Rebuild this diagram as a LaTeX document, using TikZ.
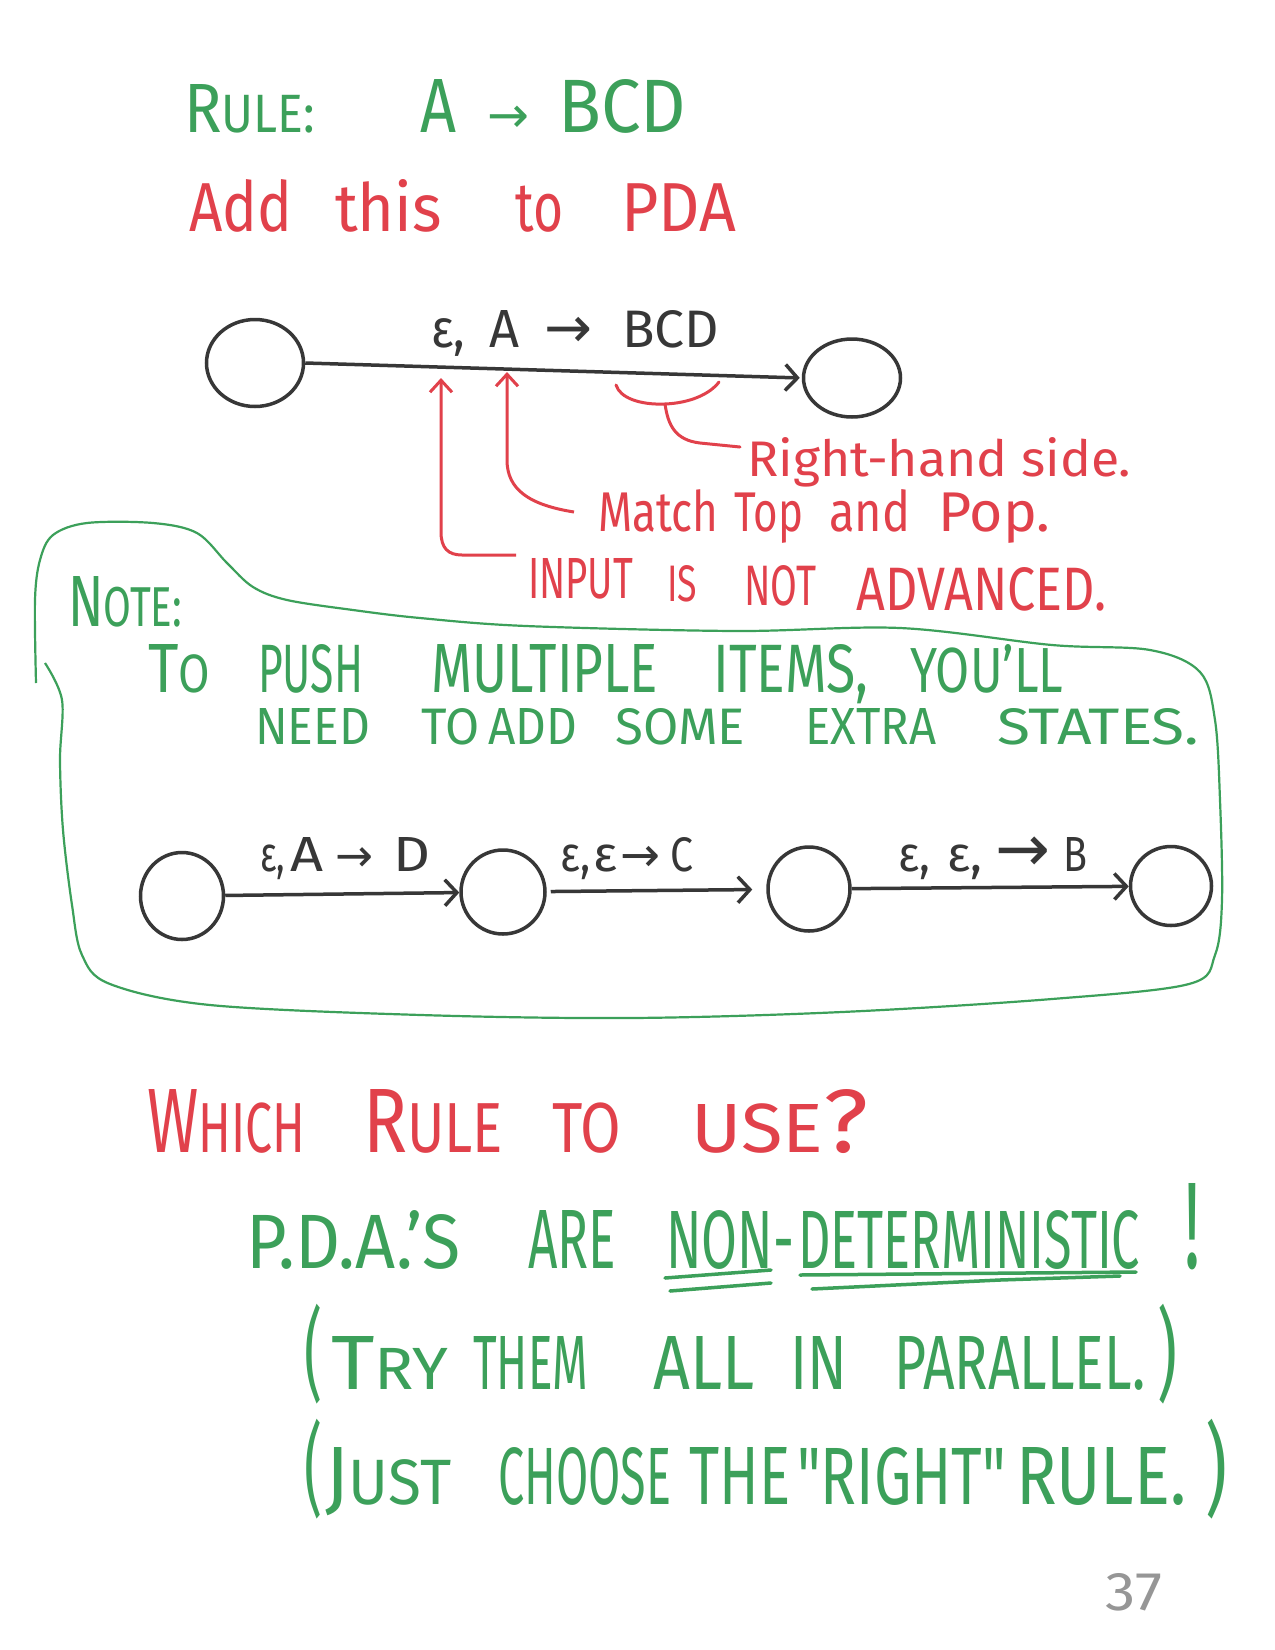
\documentclass[tikz,border=0pt]{standalone}
\usepackage{fontspec}
\setmainfont{Fira Sans}
\newfontfamily\arrfont{DejaVu Sans}
\usepackage{graphicx}
\usetikzlibrary{arrows.meta,shapes.geometric}
\definecolor{ink}{RGB}{55,55,55}
\definecolor{grn}{RGB}{60,160,90}
\definecolor{rd}{RGB}{225,65,75}
\definecolor{pg}{RGB}{150,150,150}
\newcommand\sk[1]{{\fontsize{31}{31}\selectfont #1}}
\newcommand\fb[3]{\resizebox{#1pt}{#2pt}{#3}}
\newcommand\W[3]{\resizebox{#1pt}{#2pt}{\vphantom{Ald}#3}}
\newcommand\C[3]{\resizebox{#1pt}{#2pt}{\vphantom{A}#3}}
\newcommand\G[1]{\hspace*{#1pt}}
\newcommand\AR[1]{\resizebox{#1pt}{!}{\arrfont →}}
\newcommand\PAR[3]{\resizebox*{#1pt}{#2pt}{#3}}
\begin{document}
\begin{tikzpicture}[x=1pt,y=-1pt,font=\fontsize{40}{48}\selectfont,
  txt/.style={inner sep=0pt,anchor=base west},
  state/.style={draw=ink,line width=3.5pt,ellipse,inner sep=0pt},
  edge/.style={draw=ink,line width=3.5pt,-{Straight Barb[length=12pt,width=26pt]}},
  redline/.style={draw=rd,line width=3pt},
  redarrow/.style={redline,-{Straight Barb[length=12pt,width=22pt]}},
  grnline/.style={draw=grn,line width=2.2pt},
  ul/.style={draw=grn,line width=3.5pt,line cap=round}]
\useasboundingbox[fill=white] (0,0) rectangle (1275,1650);

% header
\node[txt,text=grn] (rule) at (184,132) {\fb{131}{48}{R\sk{ULE:}}};
\node[txt,text=grn] (prod) at (420,132) {\C{36}{53}{A}\G{31}\AR{42}\G{29}\C{128}{53}{BCD}};
\node[txt,text=rd] (add) at (189,231) {\W{103}{52}{Add}\G{43}\W{107}{52}{this}\G{73}\W{48}{52}{to}\G{58}\W{115}{52}{PDA}};

% top PDA fragment
\node[state,minimum width=97pt,minimum height=87pt] (s1) at (255,363) {};
\node[state,minimum width=97pt,minimum height=78pt] (s2) at (852,378) {};
\draw[edge,shorten >=2pt] (s1.east) -- (s2.west);
\node[txt,text=ink] (lab) at (431,347) {\C{34}{37}{ε,}\G{24}\C{30}{37}{A}\G{25}\AR{48}\G{30}\C{97}{37}{BCD}};

% red annotations
\node[txt,text=rd] (rhs) at (747,476) {\fb{384}{39}{Right-hand side.}};
\node[txt,text=rd] (mtp) at (598,531) {\W{120}{42}{Match}\G{16}\W{69}{42}{Top}\G{26}\W{81}{42}{and}\G{28}\W{112}{42}{Pop.}};
\node[txt,text=rd] (inp) at (528,598) {\C{105}{40}{INPUT}\G{34}\raisebox{-3pt}{\C{30}{36}{IS}}\G{47}\raisebox{-7pt}{\C{72}{40}{NOT}}\G{40}\raisebox{-12pt}{\C{250}{43}{ADVANCED.}}};

\coordinate (t1) at (441,378);
\coordinate (e1) at (516,555);
\coordinate (t2) at (507,372);
\coordinate (e2) at (574,512);
\coordinate (bl) at (616,385);
\coordinate (bm) at (665,404);
\coordinate (br) at (719,382);
\coordinate (be) at (740,447);
\draw[redarrow] (e1) -- (462,555) .. controls (448,555) and (441,548) .. (441,532) -- (t1);
\draw[redarrow] (e2) .. controls (530,505) and (507,490) .. (507,460) -- (t2);
\draw[redline,line cap=round] (bl) .. controls (620,398) and (640,405) .. (bm) .. controls (690,403) and (710,394) .. (br);
\draw[redline,line cap=round] (bm) .. controls (668,425) and (675,440) .. (700,443) -- (be);

% note blob
\draw[grnline] plot[smooth,tension=0.55] coordinates {
 (45,663) (62,700) (60,760) (63,830) (72,905) (82,955) (110,984) (210,1005)
 (421,1015) (631,1018) (842,1012) (1052,999) (1189,984) (1215,955) (1222,900)
 (1220,800) (1215,720) (1200,672) (1150,650) (1052,645) (900,628) (736,631)
 (526,626) (420,618) (353,610) (287,600) (253,587) (227,563) (197,533)
 (153,523) (87,523) (53,535) (40,560) (35,600) (36,683)};
\node[txt,text=grn] (note) at (68,626) {\fb{114}{50}{N\sk{OTE:}}};
\node[txt,text=grn] (n1) at (148,692) {\C{62}{48}{T\sk{O}}\G{48}\C{105}{48}{PUSH}\G{68}\C{227}{48}{MULTIPLE}\G{55}\C{155}{48}{ITEMS,}\G{42}\C{153}{48}{YOU'LL}};
\node[txt,text=grn] (n2) at (255,744) {\C{115}{36}{NEED}\G{51}\C{58}{36}{TO}\G{9}\C{89}{36}{ADD}\G{38}\C{130}{36}{SOME}\G{60}\C{131}{36}{EXTRA}\G{61}\C{202}{36}{STATES.}};

% lower chain
\node[state,minimum width=83pt,minimum height=87pt] (q1) at (182,896) {};
\node[state,minimum width=84pt,minimum height=84pt] (q2) at (503,892) {};
\node[state,minimum width=82pt,minimum height=84pt] (q3) at (809,889) {};
\node[state,minimum width=81pt,minimum height=79pt] (q4) at (1171,886) {};
\draw[edge] (q1) -- (q2);
\draw[edge,shorten <=4pt,shorten >=14pt] (q2) -- (q3);
\draw[edge] (q3) -- (q4);
\node[txt,text=ink] (l1) at (260,871) {\C{25}{34}{ε,}\G{5}\C{33}{34}{A}\G{12}\AR{38}\G{20}\C{37}{34}{D}};
\node[txt,text=ink] (l2) at (560,871) {\C{30}{34}{ε,}\G{3}\C{24}{34}{ε}\G{3}\AR{40}\G{10}\C{23}{34}{C}};
\node[txt,text=ink] (l3) at (898,871) {\C{32}{34}{ε,}\G{17}\C{35}{34}{ε,}\G{13}\AR{55}\G{13}\C{24}{34}{B}};

% bottom
\node[txt,text=rd] (which) at (147,1152) {\C{158}{63}{W\sk{HICH}}\G{58}\C{140}{63}{R\sk{ULE}}\G{49}\C{69}{63}{\sk{TO}}\G{70}\C{177}{63}{\sk{USE}?}};
\node[txt,text=grn] (pdas) at (246,1268) {\C{214}{58}{P.D.A.'S}\G{68}\C{88}{58}{ARE}\G{50}\C{128}{58}{NON-}\G{4}\C{342}{58}{DETERMINISTIC}\G{44}\fb{16}{85}{!}};
\draw[ul] (665,1278) -- (771,1270);
\draw[ul] (670,1291) -- (771,1283);
\draw[ul] (800,1275) -- (1136,1272);
\draw[ul] (812,1289) -- (1000,1280) -- (1120,1276);
\node[txt,text=grn] (try) at (304,1389) {\PAR{18}{100}{(}\G{9}\C{117}{53}{T\sk{RY}}\G{25}\C{115}{53}{THEM}\G{65}\C{101}{53}{ALL}\G{36}\C{57}{53}{IN}\G{47}\C{251}{53}{PARALLEL.}\G{12}\PAR{20}{100}{)}};
\node[txt,text=grn] (just) at (304,1504) {\PAR{18}{100}{(}\G{3}\C{126}{57}{J\sk{UST}}\G{47}\C{173}{57}{CHOOSE}\G{18}\C{101}{57}{THE}\G{7}\C{209}{57}{\textquotedbl RIGHT\textquotedbl}\G{10}\C{170}{57}{RULE.}\G{19}\PAR{22}{100}{)}};
\node[txt,text=pg] (pgno) at (1105,1610) {\fb{57}{37}{37}};
\end{tikzpicture}
\end{document}
